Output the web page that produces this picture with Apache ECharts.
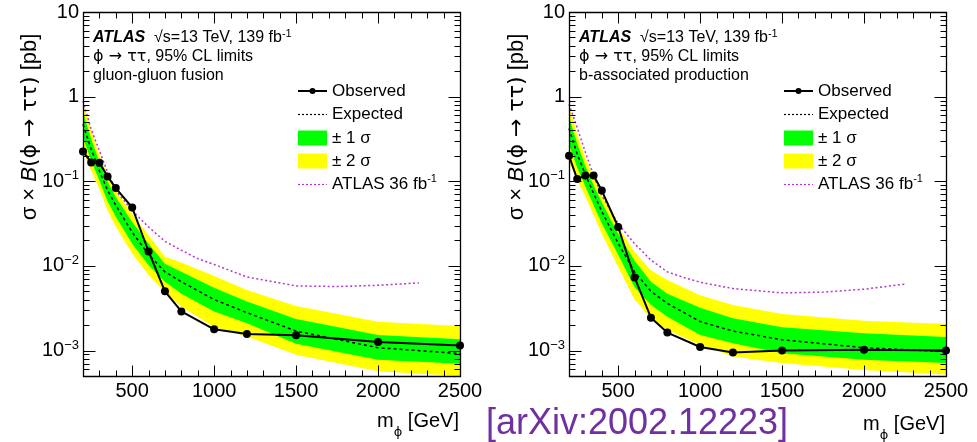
<!DOCTYPE html>
<html><head><meta charset="utf-8">
<script src="https://cdn.jsdelivr.net/npm/echarts@6/dist/echarts.min.js"></script>
<style>html,body{margin:0;padding:0;background:#fff}#c{width:977px;height:442px}</style>
</head><body><div id="c"></div>
<script>
// ---------------- data ----------------
const massPoints = [200, 250, 300, 350, 400, 500, 600, 700, 800, 1000, 1200, 1500, 2000, 2500];

// gluon-gluon fusion
const ggfObserved = [0.225, 0.167, 0.166, 0.114, 0.083, 0.049, 0.0148, 0.0050, 0.0029, 0.00178, 0.00157, 0.00152, 0.00126, 0.00115];
const ggfExpected = [0.47, 0.24, 0.133, 0.078, 0.052, 0.025, 0.0136, 0.0085, 0.0065, 0.0040, 0.0028, 0.0017, 0.00108, 0.00092];
const ggfPlus2 =    [0.85, 0.40, 0.20, 0.122, 0.078, 0.041, 0.023, 0.0128, 0.0110, 0.0076, 0.0052, 0.00336, 0.00219, 0.00195];
const ggfPlus1 =    [0.65, 0.315, 0.167, 0.099, 0.065, 0.033, 0.0183, 0.0106, 0.0085, 0.0055, 0.0038, 0.00236, 0.00153, 0.00136];
const ggfMinus1 =   [0.33, 0.175, 0.102, 0.058, 0.038, 0.0183, 0.0102, 0.0065, 0.0047, 0.0029, 0.0021, 0.0012, 0.00078, 0.0007];
const ggfMinus2 =   [0.23, 0.133, 0.081, 0.045, 0.029, 0.014, 0.0078, 0.0049, 0.0033, 0.0019, 0.00146, 0.00089, 0.00057, 0.0005];

// b-associated production
const bbhObserved = [0.20, 0.106, 0.117, 0.117, 0.0776, 0.0288, 0.0073, 0.00244, 0.00163, 0.0011, 0.00095, 0.0010, 0.00102, 0.0010];
const bbhExpected = [0.42, 0.21, 0.12, 0.072, 0.044, 0.0185, 0.0085, 0.0050, 0.0036, 0.0022, 0.0017, 0.00134, 0.00108, 0.00097];
const bbhPlus2 =    [0.78, 0.36, 0.19, 0.11, 0.068, 0.029, 0.0146, 0.0089, 0.0068, 0.0045, 0.00345, 0.0027, 0.00225, 0.00206];
const bbhPlus1 =    [0.58, 0.28, 0.15, 0.09, 0.056, 0.024, 0.0115, 0.0065, 0.0047, 0.0032, 0.0024, 0.00188, 0.0016, 0.00144];
const bbhMinus1 =   [0.27, 0.145, 0.087, 0.052, 0.032, 0.0135, 0.0056, 0.00345, 0.0025, 0.00153, 0.00122, 0.00093, 0.00078, 0.00071];
const bbhMinus2 =   [0.17, 0.104, 0.066, 0.04, 0.024, 0.0098, 0.0040, 0.0024, 0.00175, 0.00117, 0.00085, 0.00071, 0.00059, 0.00052];

// previous ATLAS 36 fb-1 expected limits
const old36Masses = [200, 250, 300, 350, 400, 500, 600, 700, 800, 900, 1000, 1200, 1500, 1750, 2000, 2250];
const ggfOld36 = [0.89, 0.41, 0.23, 0.128, 0.078, 0.045, 0.0288, 0.0195, 0.0153, 0.0122, 0.0104, 0.0074, 0.0058, 0.0057, 0.0059, 0.0063];
const bbhOld36 = [0.81, 0.43, 0.22, 0.117, 0.068, 0.0315, 0.0183, 0.0117, 0.0085, 0.0073, 0.0064, 0.0054, 0.0048, 0.0049, 0.0053, 0.0061];

// axes
const xTickLabels = [500, 1000, 1500, 2000, 2500];
const yTickValues = [0.001, 0.01, 0.1, 1, 10];
const yTickTexts = ['{n|10}{sup|−3}', '{n|10}{sup|−2}', '{n|10}{sup|−1}', '{n|1}', '{n|10}'];
const panelTitles = ['gluon-gluon fusion', 'b-associated production'];

// ---------------- chart ----------------
const FONT = 'Liberation Sans, Arial, Helvetica, sans-serif';
const SYM = 'DejaVu Sans, Liberation Sans, sans-serif';
const XMIN = 200, XMAX = 2500, YMIN = 0.0005, YMAX = 10;
const grids = [
  {left: 83, top: 12, width: 377, height: 364},
  {left: 569, top: 12, width: 377, height: 364}
];
const panels = [
  {obs: ggfObserved, exp: ggfExpected, p2: ggfPlus2, p1: ggfPlus1, m1: ggfMinus1, m2: ggfMinus2, old: ggfOld36},
  {obs: bbhObserved, exp: bbhExpected, p2: bbhPlus2, p1: bbhPlus1, m1: bbhMinus1, m2: bbhMinus2, old: bbhOld36}
];
const GREEN = '#00ff00', YELLOW = '#ffff00', MAGENTA = '#b535d0';

function bandSeries(gi, lo, hi, color, z) {
  return {
    type: 'custom', xAxisIndex: gi, yAxisIndex: gi, z: z, silent: true, clip: true,
    data: massPoints.map((m, i) => [m, lo[i], hi[i]]),
    encode: {x: 0, y: [1, 2]},
    renderItem: function (params, api) {
      if (params.dataIndex !== 0) return null;
      const top = massPoints.map((m, i) => api.coord([m, hi[i]]));
      const bot = massPoints.map((m, i) => api.coord([m, lo[i]])).reverse();
      return {type: 'polygon', shape: {points: top.concat(bot)}, style: {fill: color, stroke: null}};
    }
  };
}

function seg(x1, y1, x2, y2, w) {
  return {type: 'line', shape: {x1: x1, y1: y1, x2: x2, y2: y2}, style: {stroke: '#000', lineWidth: w || 1}};
}

function frameSeries(gi) {
  return {
    type: 'custom', xAxisIndex: gi, yAxisIndex: gi, z: 20, silent: true, clip: false,
    data: [[XMIN, 1]],
    renderItem: function (params, api) {
      const cs = params.coordSys;
      const L = Math.round(cs.x) + 0.5, T = Math.round(cs.y) + 0.5;
      const R = Math.round(cs.x + cs.width) + 0.5, B = Math.round(cs.y + cs.height) + 0.5;
      const ch = [];
      for (let m = XMIN; m <= XMAX; m += 100) {
        const x = Math.round(api.coord([m, 1])[0]) + 0.5;
        const len = (m % 500 === 0) ? 11 : 6;
        ch.push(seg(x, B, x, B - len), seg(x, T, x, T + len));
      }
      for (let k = -4; k <= 1; k++) {
        for (let d = 1; d <= 9; d++) {
          const v = d * Math.pow(10, k);
          if (v <= YMIN * 1.0001 || v >= YMAX * 0.9999) continue;
          const y = Math.round(api.coord([XMIN, v])[1]) + 0.5;
          const len = d === 1 ? 12 : 6;
          ch.push(seg(L, y, L + len, y), seg(R, y, R - len, y));
        }
      }
      ch.push({type: 'rect', shape: {x: L, y: T, width: R - L, height: B - T},
               style: {fill: null, stroke: '#000', lineWidth: 1.3}});
      return {type: 'group', children: ch};
    }
  };
}

const xAxes = [], yAxes = [], series = [];
panels.forEach((p, gi) => {
  xAxes.push({
    type: 'value', gridIndex: gi, min: XMIN, max: XMAX, interval: 100,
    axisLine: {show: false}, axisTick: {show: false}, splitLine: {show: false},
    axisLabel: {
      margin: 5, color: '#000', fontSize: 20, fontFamily: FONT,
      formatter: v => (xTickLabels.indexOf(v) >= 0 ? String(v) : '')
    }
  });
  yAxes.push({
    type: 'log', logBase: 10, gridIndex: gi, min: YMIN, max: YMAX,
    axisLine: {show: false}, axisTick: {show: false}, splitLine: {show: false}, minorTick: {show: false},
    axisLabel: {
      margin: 4, color: '#000', fontFamily: FONT,
      formatter: function (v) {
        for (let i = 0; i < yTickValues.length; i++) {
          if (Math.abs(Math.log10(v) - Math.log10(yTickValues[i])) < 0.01) return yTickTexts[i];
        }
        return '';
      },
      rich: {
        n: {fontSize: 20, fontFamily: FONT, color: '#000', lineHeight: 24},
        sup: {fontSize: 13, fontFamily: FONT, color: '#000', verticalAlign: 'top', lineHeight: 14}
      }
    }
  });
  series.push(bandSeries(gi, p.m2, p.p2, YELLOW, 1));
  series.push(bandSeries(gi, p.m1, p.p1, GREEN, 2));
  series.push({
    type: 'line', xAxisIndex: gi, yAxisIndex: gi, z: 3, silent: true, symbol: 'none',
    data: old36Masses.map((m, i) => [m, p.old[i]]),
    lineStyle: {color: MAGENTA, width: 1.5, type: [2, 2.5]}
  });
  series.push({
    type: 'line', xAxisIndex: gi, yAxisIndex: gi, z: 4, silent: true, symbol: 'none',
    data: massPoints.map((m, i) => [m, p.exp[i]]),
    lineStyle: {color: '#000', width: 1.5, type: [3, 3]}
  });
  series.push({
    type: 'line', xAxisIndex: gi, yAxisIndex: gi, z: 5, silent: true,
    symbol: 'circle', symbolSize: 8, showSymbol: true,
    data: massPoints.map((m, i) => [m, p.obs[i]]),
    itemStyle: {color: '#000'},
    lineStyle: {color: '#000', width: 2}
  });
  series.push(frameSeries(gi));
});

// ---------------- texts & legends ----------------
const graphics = [];
function tk(size, extra) {
  return Object.assign({fontSize: size, fontFamily: FONT, fill: '#000', lineHeight: Math.round(size * 1.25)}, extra || {});
}
function txt(x, y, text, rich, align, rotation) {
  const o = {
    type: 'text', x: x, y: y, silent: true, z: 30,
    style: {text: text, rich: rich, fill: '#000', font: '16px ' + FONT, textAlign: align || 'left', textVerticalAlign: 'middle'}
  };
  if (rotation) o.rotation = rotation;
  return o;
}
const base16 = tk(16);
const sup11 = tk(11, {verticalAlign: 'top', lineHeight: 12});
const arr16 = tk(16, {fontFamily: SYM});

grids.forEach((g, gi) => {
  const ox = g.left;
  // annotation
  graphics.push(txt(ox + 10, 38, '{b|ATLAS}{n|  √s=13 TeV, 139 fb}{s|-1}', {
    b: tk(16, {fontWeight: 'bold', fontStyle: 'italic'}), n: base16, s: sup11
  }));
  graphics.push(txt(ox + 10, 57, '{a|ϕ → ττ}{n|, 95% CL limits}', {n: base16, a: arr16}));
  graphics.push(txt(ox + 10, 76, '{n|' + panelTitles[gi] + '}', {n: base16}));

  // legend
  const sx = ox + 215, sw = 29, tx = ox + 249;
  const rows = [91, 114, 138, 161, 184];
  const t17 = tk(17);
  const s12 = tk(11, {verticalAlign: 'top', lineHeight: 12});
  graphics.push({type: 'line', z: 30, silent: true, shape: {x1: sx, y1: rows[0], x2: sx + sw, y2: rows[0]}, style: {stroke: '#000', lineWidth: 2}});
  graphics.push({type: 'circle', z: 31, silent: true, shape: {cx: sx + sw / 2, cy: rows[0], r: 3}, style: {fill: '#000'}});
  graphics.push(txt(tx, rows[0], '{t|Observed}', {t: t17}));
  graphics.push({type: 'line', z: 30, silent: true, shape: {x1: sx, y1: rows[1] + 0.5, x2: sx + sw, y2: rows[1] + 0.5}, style: {stroke: '#000', lineWidth: 1.2, lineDash: [2, 2]}});
  graphics.push(txt(tx, rows[1], '{t|Expected}', {t: t17}));
  graphics.push({type: 'rect', z: 30, silent: true, shape: {x: sx, y: rows[2] - 7.5, width: sw, height: 15}, style: {fill: GREEN}});
  graphics.push(txt(tx, rows[2], '{t|± 1 σ}', {t: t17}));
  graphics.push({type: 'rect', z: 30, silent: true, shape: {x: sx, y: rows[3] - 7.5, width: sw, height: 15}, style: {fill: YELLOW}});
  graphics.push(txt(tx, rows[3], '{t|± 2 σ}', {t: t17}));
  graphics.push({type: 'line', z: 30, silent: true, shape: {x1: sx, y1: rows[4] + 0.5, x2: sx + sw, y2: rows[4] + 0.5}, style: {stroke: MAGENTA, lineWidth: 1.2, lineDash: [2, 2]}});
  graphics.push(txt(tx, rows[4], '{t|ATLAS 36 fb}{s|-1}', {t: t17, s: s12}));

  // y-axis title
  graphics.push(txt(gi === 0 ? 30 : 517, 127, '{n|σ × }{i|B}{a|(ϕ → ττ)}{n| [pb]}', {
    n: tk(22), i: tk(22, {fontStyle: 'italic'}), a: tk(22, {fontFamily: SYM})
  }, 'center', Math.PI / 2));

  // x-axis title
  graphics.push(txt(ox + g.width - 1, gi === 0 ? 421 : 424, '{n|m}{sub|ϕ}{n| [GeV]}', {
    n: tk(20),
    sub: tk(13, {fontFamily: SYM, verticalAlign: 'bottom', lineHeight: 14, padding: [0, 0, -6, 0]})
  }, 'right'));
});

graphics.push(txt(637, 424, '{a|[arXiv:2002.12223]}', {
  a: tk(36, {fill: '#7030a0', lineHeight: 42})
}, 'center'));

const chart = echarts.init(document.getElementById('c'), null, {renderer: 'canvas'});
chart.setOption({
  animation: false,
  backgroundColor: '#fff',
  grid: grids,
  xAxis: xAxes,
  yAxis: yAxes,
  series: series,
  graphic: graphics
});
</script>
</body></html>
